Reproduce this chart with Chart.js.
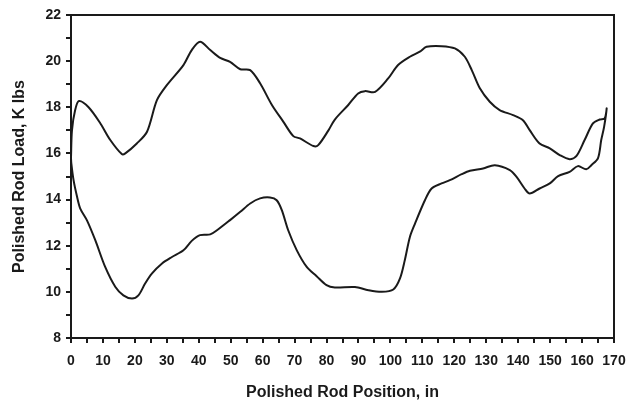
<!DOCTYPE html>
<html>
<head>
<meta charset="utf-8">
<script src="https://cdn.jsdelivr.net/npm/chart.js@4"></script>
<style>
  body { margin: 0; background: #fff; }
  #wrap { width: 627px; height: 402px; }
</style>
</head>
<body>
<div id="wrap"><canvas id="dyno-chart"></canvas></div>
<script>
// upstroke (top of the card), left to right
var upPosition = [0, 0.3, 1.3, 2.5, 5.5, 9.2, 12.3, 15.9, 17, 20.6, 23.8, 26.9, 30, 35.2, 37.8, 40.4,
    43.6, 46.7, 49.8, 53, 56.1, 59.2, 62.9, 66.5, 69.6, 71.7, 75.9, 77.4, 80.6, 82.6, 86.8, 89.9,
    92, 95.2, 99.3, 102.4, 106.1, 109.2, 111.3, 116, 120.2, 123.3, 125.5, 128, 131.1, 134.2, 138.4,
    141.5, 143.6, 146.7, 149.9, 153, 156.1, 158.2, 160.8, 163.4, 165.5, 167.1, 167.7];
var upLoad = [15.8, 17.0, 17.88, 18.27, 18.0, 17.3, 16.58, 15.97, 16.0, 16.43, 16.94, 18.31, 18.96, 19.83, 20.48, 20.84,
    20.48, 20.14, 19.97, 19.65, 19.61, 19.04, 18.1, 17.37, 16.75, 16.65, 16.32, 16.36, 17.0, 17.47, 18.1, 18.6,
    18.7, 18.67, 19.25, 19.83, 20.19, 20.41, 20.62, 20.65, 20.55, 20.19, 19.6, 18.82, 18.24, 17.88, 17.66,
    17.44, 17.01, 16.43, 16.22, 15.93, 15.75, 15.88, 16.58, 17.3, 17.47, 17.52, 17.95];

// downstroke (bottom of the card), right to left
var downPosition = [166.9, 166, 165, 162.9, 161.3, 158.7, 156.1, 152.5, 149.9, 146.7, 143.6, 142, 139.5,
    137.4, 132.7, 129, 124.9, 122.3, 118.6, 116, 112.9, 110.8, 107.7, 106.1, 104.5, 103, 100.9, 97.3,
    93.1, 88.9, 82.6, 80, 76.9, 73.8, 70.7, 68, 66, 64.4, 62.3, 59.2, 56.1, 53, 49.8, 45.7, 43.6, 40.4,
    37.8, 35.2, 31.6, 28.5, 25.3, 23.2, 21.1, 19.1, 16.4, 13.9, 10.7, 7.6, 5, 2.9, 1.9, 0.8, 0.1, 0];
var downLoad = [17.15, 16.58, 15.8, 15.49, 15.31, 15.45, 15.2, 15.02, 14.7, 14.48, 14.26, 14.48, 14.98,
    15.28, 15.49, 15.35, 15.25, 15.1, 14.84, 14.7, 14.48, 13.97, 12.96, 12.38, 11.37, 10.58, 10.1, 10.0,
    10.07, 10.21, 10.19, 10.29, 10.68, 11.08, 11.8, 12.67, 13.54, 13.97, 14.09, 14.05, 13.83, 13.47, 13.11, 12.67, 12.49, 12.46,
    12.21, 11.8, 11.51, 11.23, 10.79, 10.36, 9.85, 9.71, 9.85, 10.21, 11.08, 12.24, 13.1, 13.61, 14.12, 14.84, 15.57, 15.8];

var card = [];
upPosition.forEach(function (x, i) { card.push({ x: x, y: upLoad[i] }); });
downPosition.forEach(function (x, i) { card.push({ x: x, y: downLoad[i] }); });

var ink = '#1a1a1a';
var tickFont = { family: 'Liberation Sans, Arial, sans-serif', size: 14, weight: 'bold' };
var titleFont = { family: 'Liberation Sans, Arial, sans-serif', size: 16, weight: 'bold' };

new Chart(document.getElementById('dyno-chart'), {
    type: 'scatter',
    data: {
        datasets: [{
            data: card,
            showLine: true,
            borderColor: ink,
            borderWidth: 2,
            pointRadius: 0,
            tension: 0.3,
            fill: false
        }]
    },
    options: {
        responsive: true,
        maintainAspectRatio: false,
        animation: false,
        layout: { padding: 0 },
        plugins: { legend: { display: false }, tooltip: { enabled: false } },
        scales: {
            x: {
                type: 'linear',
                min: 0,
                max: 170,
                afterFit: function (s) {
                    s.height = 64;
                    s.paddingLeft = 0;
                    s.paddingRight = 0;
                },
                border: { display: true, color: ink, width: 2 },
                grid: { display: true, drawOnChartArea: false, drawTicks: true, tickLength: 5, color: ink, lineWidth: 2 },
                ticks: {
                    stepSize: 5,
                    color: ink,
                    font: tickFont,
                    padding: 10,
                    maxRotation: 0,
                    autoSkip: false,
                    callback: function (v) { return v % 10 === 0 ? v : ''; }
                },
                title: { display: true, text: 'Polished Rod Position, in', color: ink, font: titleFont, padding: { top: 14, bottom: 0 } }
            },
            y: {
                type: 'linear',
                min: 8,
                max: 22,
                afterFit: function (s) { s.width = 71; },
                border: { display: true, color: ink, width: 2 },
                grid: { display: true, drawOnChartArea: false, drawTicks: true, tickLength: 5, color: ink, lineWidth: 2 },
                ticks: {
                    stepSize: 1,
                    color: ink,
                    font: tickFont,
                    padding: 5,
                    autoSkip: false,
                    callback: function (v) { return v % 2 === 0 ? v : ''; }
                },
                title: { display: true, text: 'Polished Rod Load, K lbs', color: ink, font: titleFont, padding: { top: 10, bottom: 2 } }
            },
            xTop: {
                type: 'linear',
                position: 'top',
                min: 0,
                max: 170,
                afterFit: function (s) {
                    s.height = 15;
                    s.paddingLeft = 0;
                    s.paddingRight = 0;
                },
                border: { display: true, color: ink, width: 2 },
                grid: { display: false },
                ticks: { display: false }
            },
            yRight: {
                type: 'linear',
                position: 'right',
                min: 8,
                max: 22,
                afterFit: function (s) { s.width = 13; },
                border: { display: true, color: ink, width: 2 },
                grid: { display: false },
                ticks: { display: false }
            }
        }
    }
});
</script>
</body>
</html>
